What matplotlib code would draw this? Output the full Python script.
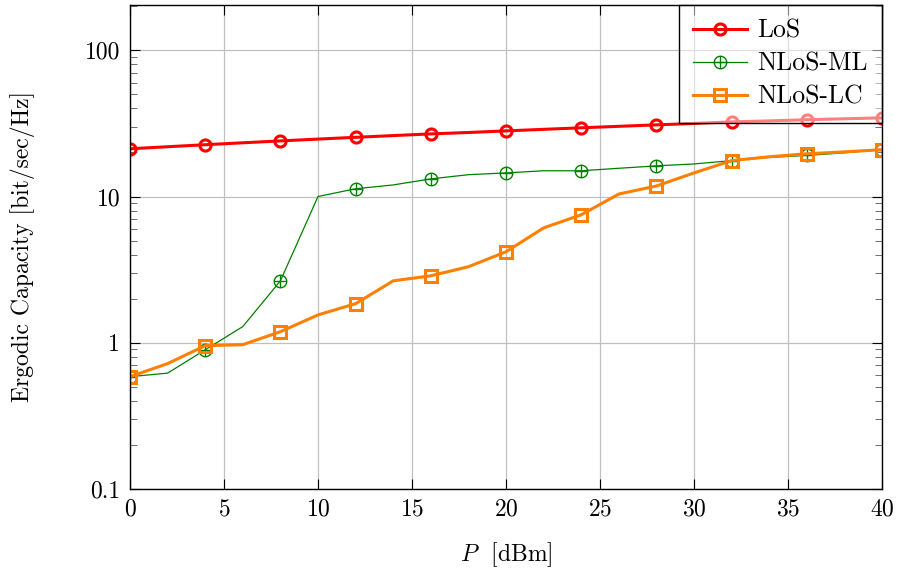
import numpy as np
import matplotlib.pyplot as plt
from matplotlib.ticker import FixedLocator, FixedFormatter, LogLocator, NullFormatter
from matplotlib.legend_handler import HandlerTuple

plt.rcParams['font.family'] = 'serif'
plt.rcParams['font.serif'] = ['cmr10']
plt.rcParams['mathtext.fontset'] = 'cm'
plt.rcParams['axes.formatter.use_mathtext'] = True

P = np.arange(0, 41, 2)
los = [21.2, 21.9, 22.6, 23.3, 24.0, 24.7, 25.4, 26.1, 26.8, 27.4, 28.1,
       28.8, 29.5, 30.2, 30.9, 31.6, 32.4, 32.9, 33.5, 34.0, 34.5]
nlos_ml = [0.586, 0.62, 0.895, 1.29, 2.65, 10.0, 11.3, 12.0, 13.2, 14.1, 14.5,
           15.0, 15.0, 15.6, 16.2, 16.7, 17.6, 18.5, 19.1, 19.9, 20.9]
nlos_lc = [0.586, 0.72, 0.955, 0.97, 1.19, 1.55, 1.85, 2.65, 2.87, 3.31, 4.19,
           6.1, 7.5, 10.4, 11.8, 14.5, 17.6, 18.7, 19.6, 20.2, 20.9]

fig = plt.figure(figsize=(9.04, 5.74), dpi=100)
ax = fig.add_axes([0.1438, 0.1481, 0.9757 - 0.1438, 0.9913 - 0.1481])

l1, = ax.plot(P, los, color='red', lw=2.2, marker='o', ms=8, mfc='none',
              mew=2.2, markevery=2, label='LoS')
l2a, = ax.plot(P, nlos_ml, color='green', lw=0.9, marker='o', ms=9, mfc='none',
               mew=1.0, markevery=2)
l2b, = ax.plot(P, nlos_ml, color='green', lw=0, marker='+', ms=9, mew=1.0,
               markevery=2)
l3, = ax.plot(P, nlos_lc, color='#ff7f00', lw=2.2, marker='s', ms=8, mfc='none',
              mew=2.2, markevery=2, label='NLoS-LC')

ax.set_yscale('log')
ax.set_xlim(0, 40)
ax.set_ylim(0.1, 204)
ax.xaxis.set_major_locator(FixedLocator(range(0, 41, 5)))
ax.yaxis.set_major_locator(FixedLocator([0.1, 1, 10, 100]))
ax.yaxis.set_major_formatter(FixedFormatter(['0.1', '1', '10', '100']))
ax.yaxis.set_minor_locator(LogLocator(base=10, subs=np.arange(2, 10)))
ax.yaxis.set_minor_formatter(NullFormatter())
ax.grid(True, which='major', color='#c0c0c0', lw=0.9)
ax.set_axisbelow(True)
ax.tick_params(which='both', direction='in', top=True, right=True,
               labelsize=17, pad=7)
ax.tick_params(which='major', length=7)
ax.tick_params(which='minor', length=5, color='#555555')
for s in ax.spines.values():
    s.set_linewidth(1.0)

ax.set_xlabel(r'$P$  [dBm]', fontsize=17, labelpad=14)
ax.set_ylabel('Ergodic Capacity [bit/sec/Hz]', fontsize=17, labelpad=36)

leg = ax.legend([l1, (l2a, l2b), l3], ['LoS', 'NLoS-ML', 'NLoS-LC'],
                handler_map={tuple: HandlerTuple(ndivide=1)},
                loc='upper right', borderaxespad=0, fancybox=False,
                fontsize=18.5, handlelength=2.1, labelspacing=0.36,
                borderpad=0.55, handletextpad=0.4)
frame = leg.get_frame()
frame.set_alpha(None)
frame.set_facecolor((1, 1, 1, 0.5))
frame.set_edgecolor('black')
frame.set_linewidth(1.0)

fig.savefig('out.png', dpi=100)
